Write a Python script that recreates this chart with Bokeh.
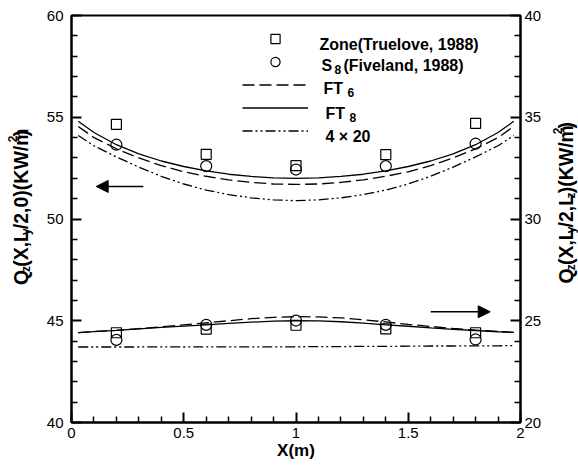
from math import pi
from bokeh.plotting import figure
from bokeh.layouts import row
from bokeh.models import (Range1d, LinearAxis, Label, Arrow, NormalHead, Legend,
                          LegendItem, FixedTicker)
from bokeh.embed import file_html
from bokeh.resources import INLINE

# ---------------- data ----------------
x_curve = [0.03, 0.1, 0.2, 0.3, 0.4, 0.5, 0.6, 0.7, 0.8, 0.9, 1.0,
           1.1, 1.2, 1.3, 1.4, 1.5, 1.6, 1.7, 1.8, 1.9, 1.97]

# upper group (left axis, Qz(X,Ly/2,0))
ft8_upper = [54.8, 54.25, 53.65, 53.2, 52.85, 52.58, 52.37, 52.2, 52.09, 52.02, 52.0,
             52.02, 52.09, 52.2, 52.37, 52.58, 52.85, 53.2, 53.65, 54.25, 54.8]
ft6_upper = [54.55, 54.0, 53.45, 53.0, 52.62, 52.32, 52.1, 51.92, 51.8, 51.72, 51.7,
             51.72, 51.8, 51.92, 52.1, 52.32, 52.62, 53.0, 53.45, 54.0, 54.55]
g420_upper = [54.1, 53.6, 53.05, 52.55, 52.1, 51.72, 51.42, 51.2, 51.04, 50.94, 50.9,
              50.94, 51.04, 51.2, 51.42, 51.72, 52.1, 52.55, 53.05, 53.6, 54.1]

# lower group (right axis, Qz(X,Ly/2,Lz))
ft8_lower = [24.42, 24.47, 24.53, 24.6, 24.67, 24.74, 24.8, 24.87, 24.93, 24.98, 25.0,
             24.99, 24.95, 24.88, 24.8, 24.73, 24.65, 24.58, 24.52, 24.46, 24.43]
ft6_lower = [24.42, 24.47, 24.53, 24.61, 24.7, 24.8, 24.9, 25.0, 25.1, 25.17, 25.2,
             25.19, 25.14, 25.05, 24.94, 24.82, 24.72, 24.62, 24.54, 24.47, 24.43]
g420_lower = [23.71, 23.71, 23.71, 23.71, 23.72, 23.71, 23.72, 23.72, 23.72, 23.72, 23.72,
              23.73, 23.73, 23.74, 23.74, 23.75, 23.76, 23.76, 23.77, 23.77, 23.78]

x_pts = [0.2, 0.6, 1.0, 1.4, 1.8]
zone_upper = [54.65, 53.18, 52.62, 53.16, 54.7]
s8_upper = [53.65, 52.6, 52.43, 52.6, 53.7]
zone_lower = [24.41, 24.59, 24.78, 24.6, 24.41]
s8_lower = [24.06, 24.8, 25.01, 24.8, 24.08]

x_ticks = [0, 0.5, 1, 1.5, 2]
x_tick_labels = ["0", "0.5", "1", "1.5", "2"]
x_minor = [0.1, 0.2, 0.3, 0.4, 0.6, 0.7, 0.8, 0.9, 1.1, 1.2, 1.3, 1.4, 1.6, 1.7, 1.8, 1.9]
yl_ticks = [40, 45, 50, 55, 60]
yl_minor = [41, 42, 43, 44, 46, 47, 48, 49, 51, 52, 53, 54, 56, 57, 58, 59]
yr_ticks = [20, 25, 30, 35, 40]
yr_minor = [21, 22, 23, 24, 26, 27, 28, 29, 31, 32, 33, 34, 36, 37, 38, 39]

arrow_left = dict(x_start=0.32, x_end=0.11, y=51.6)     # points to left axis
arrow_right = dict(x_start=1.6, x_end=1.865, y=25.44)   # points to right axis

# ---------------- layout constants ----------------
FONT = "Liberation Sans"
PAGE_W, PAGE_H = 578, 471
LEFT_W, RIGHT_W = 40, 34
MAIN_W = PAGE_W - LEFT_W - RIGHT_W
FRAME_L, FRAME_R, FRAME_T, FRAME_B = 71, 520, 15, 422  # page pixels

p = figure(width=MAIN_W, height=PAGE_H, output_backend="svg", toolbar_location=None,
           x_range=Range1d(0, 2), y_range=Range1d(40, 60),
           min_border_left=FRAME_L - LEFT_W, min_border_right=LEFT_W + MAIN_W - FRAME_R,
           min_border_top=FRAME_T, min_border_bottom=PAGE_H - FRAME_B,
           background_fill_color="white", border_fill_color="white")
p.extra_y_ranges = {"right": Range1d(20, 40)}
p.grid.visible = False
p.outline_line_color = "black"
p.outline_line_width = 2
p.outline_line_alpha = 1

right_axis = LinearAxis(y_range_name="right")
p.add_layout(right_axis, "right")

p.xaxis.ticker = FixedTicker(ticks=x_ticks, minor_ticks=x_minor)
p.xaxis.major_label_overrides = {t: s for t, s in zip(x_ticks, x_tick_labels)}
p.yaxis[0].ticker = FixedTicker(ticks=yl_ticks, minor_ticks=yl_minor)
right_axis.ticker = FixedTicker(ticks=yr_ticks, minor_ticks=yr_minor)

for ax in [p.xaxis[0], p.yaxis[0], right_axis]:
    ax.axis_line_width = 2
    ax.axis_line_color = "black"
    ax.major_tick_in = 10
    ax.major_tick_out = 0
    ax.major_tick_line_width = 2
    ax.major_tick_line_color = "black"
    ax.minor_tick_in = 6
    ax.minor_tick_out = 0
    ax.minor_tick_line_width = 1.5
    ax.minor_tick_line_color = "black"
    ax.major_label_text_font = FONT
    ax.major_label_text_font_size = "15px"
    ax.major_label_text_color = "black"

p.yaxis[0].major_label_standoff = 8
right_axis.major_label_standoff = 4
p.xaxis.major_label_standoff = 5
p.xaxis.axis_label = "X(m)"
p.xaxis.axis_label_text_font = FONT
p.xaxis.axis_label_text_font_style = "bold"
p.xaxis.axis_label_text_font_size = "17px"
p.xaxis.axis_label_text_color = "black"
p.xaxis.axis_label_standoff = 0

# curves
r_ft6 = p.line(x_curve, ft6_upper, line_color="black", line_width=1.3, line_dash="12 5")
r_ft8 = p.line(x_curve, ft8_upper, line_color="black", line_width=1.3)
r_g420 = p.line(x_curve, g420_upper, line_color="black", line_width=1.3, line_dash="10 3 2 3 2 3")
p.line(x_curve, ft6_lower, line_color="black", line_width=1.3, line_dash="12 5", y_range_name="right")
p.line(x_curve, ft8_lower, line_color="black", line_width=1.3, y_range_name="right")
p.line(x_curve, g420_lower, line_color="black", line_width=1.3, line_dash="10 3 2 3 2 3", y_range_name="right")

r_zone = p.scatter(x_pts, zone_upper, marker="square", size=10, fill_color=None,
                   line_color="black", line_width=1.2)
r_s8 = p.scatter(x_pts, s8_upper, marker="circle", size=11, fill_color=None,
                 line_color="black", line_width=1.2)
p.scatter(x_pts, zone_lower, marker="square", size=10, fill_color=None,
          line_color="black", line_width=1.2, y_range_name="right")
p.scatter(x_pts, s8_lower, marker="circle", size=11, fill_color=None,
          line_color="black", line_width=1.2, y_range_name="right")

# legend symbols (text is drawn separately to allow real subscripts)
GLYPH_H = 23
LEG_TOP = 38 - GLYPH_H / 2
legend = Legend(items=[LegendItem(label=" ", renderers=[r]) for r in
                       [r_zone, r_s8, r_ft6, r_ft8, r_g420]],
                location=(242 - FRAME_L, FRAME_B - (LEG_TOP + 5 * GLYPH_H)),
                orientation="vertical",
                glyph_width=66, glyph_height=GLYPH_H, label_height=20, spacing=0,
                padding=0, margin=0, label_standoff=0, label_width=1,
                label_text_font_size="1px",
                border_line_color=None, background_fill_alpha=0)
p.add_layout(legend)


def px_to_data(sx, sy):
    return ((sx - FRAME_L) / (FRAME_R - FRAME_L) * 2.0,
            60 - (sy - FRAME_T) / (FRAME_B - FRAME_T) * 20.0)


def legend_text(pieces, baseline):
    for txt, sx, kind in pieces:
        size = "16px" if kind == "main" else "12px"
        dy = 0 if kind == "main" else 4
        dx_, dy_ = px_to_data(sx, baseline + dy)
        p.add_layout(Label(x=dx_, y=dy_, text=txt, text_font=FONT, text_font_style="bold",
                           text_font_size=size, text_baseline="alphabetic",
                           text_align="left", text_color="black"))


legend_text([("Zone(Truelove, 1988)", 319, "main")], 38 + 6)
legend_text([("S", 321, "main"), ("8", 334, "sub"), ("(Fiveland, 1988)", 343, "main")], 59 + 6)
legend_text([("FT", 323, "main"), ("6", 347, "sub")], 82 + 6)
legend_text([("FT", 325, "main"), ("8", 349, "sub")], 107 + 6)
legend_text([("4 \u00d7 20", 325, "main")], 130 + 6)

# arrows
head = dict(size=12, fill_color="black", line_color="black")
p.add_layout(Arrow(end=NormalHead(**head), x_start=arrow_left["x_start"], y_start=arrow_left["y"],
                   x_end=arrow_left["x_end"], y_end=arrow_left["y"],
                   line_color="black", line_width=1.5))
p.add_layout(Arrow(end=NormalHead(**head), x_start=arrow_right["x_start"], y_start=arrow_right["y"],
                   x_end=arrow_right["x_end"], y_end=arrow_right["y"],
                   line_color="black", line_width=1.5, y_range_name="right"))

# ---------------- side panels holding the vertical axis titles ----------------
ADV = {"Q": 778, "z": 500, "(": 333, "X": 667, ",": 278, "L": 611, "y": 556, "/": 278,
       "2": 556, "0": 556, ")": 333, "K": 722, "W": 944, "m": 889}


def side_fig(w):
    f = figure(width=w, height=PAGE_H, output_backend="svg", toolbar_location=None,
               x_range=Range1d(0, w), y_range=Range1d(0, PAGE_H),
               x_axis_type=None, y_axis_type=None, min_border=0,
               outline_line_color=None, background_fill_color="white",
               border_fill_color="white")
    f.grid.visible = False
    return f


def add_vertical(f, pieces, x_base, sy_start, main=19.5, small=12):
    # x_base: screen x of the text baseline (glyph tops point to the left)
    sy = sy_start
    for txt, kind in pieces:
        size = main if kind == "main" else small
        shift = {"main": 0, "sub": 3, "sup": -11}[kind]
        x_mid = x_base + shift - 0.3465 * size   # centre of the em box
        f.add_layout(Label(x=x_mid, y=PAGE_H - sy, text=txt, angle=pi / 2,
                           text_font=FONT, text_font_style="bold",
                           text_font_size=f"{size}px",
                           text_baseline="middle", text_align="left",
                           text_color="black"))
        sy -= sum(ADV[c] for c in txt) / 1000 * size


left_fig = side_fig(LEFT_W)
right_fig = side_fig(RIGHT_W)
add_vertical(left_fig, [("Q", "main"), ("z", "sub"), ("(X,L", "main"), ("y", "sub"),
                        ("/2,0)(KW/m", "main"), ("2", "sup"), (")", "main")], 27, 312)
add_vertical(right_fig, [("Q", "main"), ("z", "sub"), ("(X,L", "main"), ("y", "sub"),
                         ("/2,L", "main"), ("z", "sub"), (")(KW/m", "main"), ("2", "sup"),
                         (")", "main")], 572 - (PAGE_W - RIGHT_W), 310)

layout = row(left_fig, p, right_fig, spacing=0)
open("out.html", "w").write(file_html(layout, INLINE))
